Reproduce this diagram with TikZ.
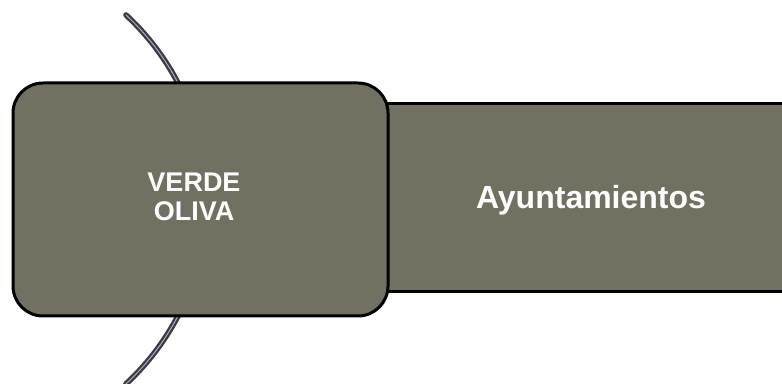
\documentclass[tikz,border=0pt]{standalone}
\usepackage{fontspec}
\setmainfont{Liberation Sans}
\definecolor{olive}{RGB}{114,112,96}
\definecolor{arcdark}{RGB}{58,58,72}
\definecolor{arclight}{RGB}{170,170,185}
\begin{document}
\begin{tikzpicture}[x=1pt,y=1pt,
  boxstyle/.style={draw=black, line width=3pt, fill=olive, inner sep=0pt},
  txt/.style={text=white, font=\bfseries, inner sep=0pt, align=center},
  arcline/.style={draw=arcdark, line width=2.3pt, double=arclight, double distance=1pt, line cap=round}]
\useasboundingbox (0,0) rectangle (782,383);
\clip (0,0) rectangle (782,383);
\coordinate (arcstart) at (126,368);
\draw[arcline] (arcstart) arc[start angle=47.2, end angle=-47.2, radius=251.4] coordinate (arcend);
\node[boxstyle, minimum width=420pt, minimum height=188pt] (right) at (590,185) {};
\node[boxstyle, rounded corners=30pt, minimum width=375pt, minimum height=233pt] (left) at (200.5,183.5) {};
\node[txt, font=\fontsize{27}{29}\selectfont\bfseries] (verde) at (194,186) {VERDE\\OLIVA};
\node[txt, font=\fontsize{32}{36}\selectfont\bfseries] (ayu) at (591,183) {Ayuntamientos};
\end{tikzpicture}
\end{document}
